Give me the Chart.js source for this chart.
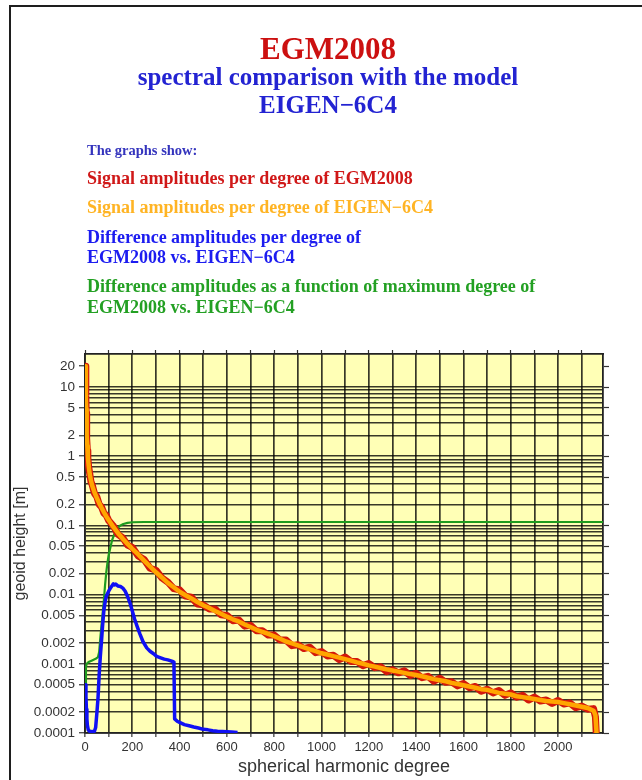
<!DOCTYPE html>
<html>
<head>
<meta charset="utf-8">
<title>EGM2008 spectral comparison with EIGEN-6C4</title>
<script src="https://cdn.jsdelivr.net/npm/chart.js@4/dist/chart.umd.min.js"></script>
<style>
  html, body { margin: 0; padding: 0; background: #fff; overflow: hidden; }
  #page { position: relative; width: 642px; height: 780px; overflow: hidden; background: #fff; }
  .edge { position: absolute; background: #1e1e1e; z-index: 2; }
  #plot { position: absolute; left: 0; top: 0; z-index: 1; }
  #rightCover { position: absolute; left: 634px; top: 8px; width: 8px; height: 772px; background: #fff; z-index: 9; }
  .t { position: absolute; white-space: nowrap; line-height: 1; z-index: 3;
       font-family: 'Liberation Serif', 'Times New Roman', serif; font-weight: bold; }
  .c { left: 28px; width: 600px; text-align: center; }
  .l { left: 87px; font-size: 18px; }
</style>
</head>
<body>
<div id="page">
  <canvas id="plot" width="642" height="780"></canvas>
  <div class="edge" style="left:9px;top:5px;width:633px;height:2px;"></div>
  <div class="edge" style="left:9px;top:5px;width:2px;height:775px;"></div>
  <div id="rightCover"></div>

  <div class="t c" style="top:33px;font-size:31px;color:#cc1010;">EGM2008</div>
  <div class="t c" style="top:64px;font-size:25px;color:#2323d2;">spectral comparison with the model</div>
  <div class="t c" style="top:92px;font-size:25px;color:#2323d2;">EIGEN−6C4</div>

  <div class="t" style="left:87px;top:143px;font-size:14.5px;color:#3434bd;">The graphs show:</div>
  <div class="t l" style="top:169px;color:#d01818;">Signal amplitudes per degree of EGM2008</div>
  <div class="t l" style="top:198px;color:#ffb424;">Signal amplitudes per degree of EIGEN−6C4</div>
  <div class="t l" style="top:228px;color:#1c1cf0;">Difference amplitudes per degree of</div>
  <div class="t l" style="top:248px;color:#1c1cf0;">EGM2008 vs. EIGEN−6C4</div>
  <div class="t l" style="top:277px;color:#23a023;">Difference amplitudes as a function of maximum degree of</div>
  <div class="t l" style="top:298px;color:#23a023;">EGM2008 vs. EIGEN−6C4</div>
</div>

<script>
const sigDeg = [2, 3, 4, 5, 6, 8, 10, 12, 15, 20, 25, 30, 40, 50, 60, 70, 80, 90, 100, 120, 140, 160, 180,
  200, 225, 250, 275, 300, 325, 350, 375, 400, 425,
  450, 475, 500, 525, 550, 575, 600, 625, 650, 675,
  700, 725, 750, 775, 800, 825, 850, 875, 900, 925,
  950, 975, 1000, 1025, 1050, 1075, 1100, 1125, 1150, 1175,
  1200, 1225, 1250, 1275, 1300, 1325, 1350, 1375, 1400, 1425,
  1450, 1475, 1500, 1525, 1550, 1575, 1600, 1625, 1650, 1675,
  1700, 1725, 1750, 1775, 1800, 1825, 1850, 1875, 1900, 1925,
  1950, 1975, 2000, 2025, 2050, 2075, 2100, 2125, 2150,
  2158, 2162, 2166];

// EGM2008 signal amplitudes per degree [m] (noisy)
const egmSignal = [20, 12, 7.5, 4.2, 3.0, 1.8, 1.2, 0.95, 0.72, 0.56, 0.43, 0.39, 0.29, 0.26, 0.20, 0.185, 0.15, 0.14, 0.118, 0.098, 0.074, 0.066, 0.052,
  0.0482, 0.0362, 0.0322, 0.0240, 0.0225, 0.0174, 0.0152, 0.0122, 0.0117, 0.0095,
  0.0092, 0.0073, 0.0071, 0.0062, 0.0062, 0.0051, 0.0050, 0.0042, 0.0043, 0.0035,
  0.0036, 0.0030, 0.0030, 0.0026, 0.0026, 0.0022, 0.00220, 0.00183, 0.00189, 0.00166,
  0.00174, 0.00145, 0.00150, 0.00130, 0.00133, 0.00115, 0.00125, 0.00108, 0.00108, 0.00094,
  0.00101, 0.00088, 0.00091, 0.00077, 0.00082, 0.00074, 0.00079, 0.00068, 0.00073, 0.00063,
  0.00066, 0.00056, 0.00062, 0.00054, 0.00055, 0.00048, 0.00052, 0.00045, 0.00047, 0.00040,
  0.00043, 0.00038, 0.00041, 0.00035, 0.00038, 0.00033, 0.00035, 0.00030, 0.00033, 0.00029,
  0.0003, 0.000268, 0.000295, 0.000262, 0.000272, 0.000232, 0.000245, 0.000221, 0.000225,
  0.00017, 0.00009, 0.00005];

// EIGEN-6C4 signal amplitudes per degree [m]
const eigenSignal = [20, 13, 7, 4.8, 3.2, 2.0, 1.4, 1.0, 0.75, 0.55, 0.45, 0.38, 0.30, 0.25, 0.21, 0.18, 0.155, 0.135, 0.12, 0.095, 0.077, 0.064, 0.054,
  0.046, 0.038, 0.031, 0.0255, 0.021, 0.0177, 0.0148, 0.0128, 0.011, 0.0098,
  0.0088, 0.0078, 0.0070, 0.0064, 0.0058, 0.0053, 0.0048, 0.0044, 0.0041, 0.0037,
  0.0034, 0.0031, 0.0029, 0.0027, 0.0025, 0.0023, 0.0021, 0.00197, 0.00185, 0.00173,
  0.00162, 0.00152, 0.00142, 0.00136, 0.00129, 0.00123, 0.00117, 0.00111, 0.00105, 0.001,
  0.00095, 0.00091, 0.00087, 0.00083, 0.0008, 0.00077, 0.00074, 0.00071, 0.00069, 0.00066,
  0.00063, 0.0006, 0.00058, 0.00056, 0.00053, 0.00051, 0.00049, 0.00047, 0.00045, 0.00043,
  0.00042, 0.0004, 0.00038, 0.00037, 0.00036, 0.00034, 0.00033, 0.00032, 0.00031, 0.0003,
  0.00029, 0.000285, 0.00028, 0.00027, 0.00026, 0.00025, 0.00024, 0.00023, 0.00021,
  0.00018, 0.00011, 0.00005];

// difference amplitudes per degree, EGM2008 vs. EIGEN-6C4 [m]
const diffDeg = [2, 4, 6, 8, 10, 14, 20, 30, 40, 45, 50, 55, 60, 65, 70, 75, 80, 85, 90, 100,
  110, 120, 125, 130, 140, 150, 160, 170, 180, 190, 200, 210, 220, 232, 245, 261, 275, 290,
  303, 320, 335, 350, 360, 370, 376, 379, 390, 400, 420, 440, 460, 480, 500, 520, 540, 560,
  580, 600, 620, 645];
const diffPerDegree = [0.0005, 0.00034, 0.00022, 0.00016, 0.00013, 0.00011, 0.000106, 0.000104, 0.000106, 0.00012,
  0.00019, 0.00032, 0.0007, 0.0013, 0.0022, 0.0038, 0.006, 0.0078, 0.0095, 0.0112,
  0.0128, 0.0143, 0.0138, 0.0142, 0.0133, 0.0131, 0.0124, 0.0112, 0.0094, 0.0076,
  0.0058, 0.0044, 0.0035, 0.0027, 0.0021, 0.0017, 0.00152, 0.0014, 0.00128, 0.00122,
  0.00117, 0.00114, 0.00111, 0.00108, 0.00106, 0.00016, 0.000148, 0.000142, 0.000132, 0.000127,
  0.000122, 0.000118, 0.000113, 0.000111, 0.000108, 0.000106, 0.000105, 0.000104, 0.000103, 0.000102];

// difference amplitudes as a function of maximum degree [m]
const cumDeg = [2, 4, 7, 15, 30, 45, 55, 60, 65, 70, 75, 80, 85, 90, 95, 100, 106, 115, 127, 140, 150, 162, 180, 200, 250, 2190];
const cumDiff = [0.0005, 0.0009, 0.001, 0.00106, 0.00112, 0.00118, 0.00125, 0.0015, 0.0024, 0.0037, 0.0055, 0.0085,
  0.014, 0.021, 0.029, 0.037, 0.046, 0.062, 0.08, 0.093, 0.1, 0.105, 0.109, 0.111, 0.112, 0.112];

// axes
const xMax = 2190;
const xGridValues = [0, 100, 200, 300, 400, 500, 600, 700, 800, 900, 1000, 1100, 1200, 1300, 1400, 1500, 1600, 1700, 1800, 1900, 2000, 2100];
const xLabelValues = [0, 200, 400, 600, 800, 1000, 1200, 1400, 1600, 1800, 2000];
const yMin = 0.0001, yMax = 30;
const yDecades = [0.0001, 0.001, 0.01, 0.1, 1];
const yMultipliers = [1, 2, 3, 4, 5, 6, 7, 8, 9];
const yLabelValues = [0.0001, 0.0002, 0.0005, 0.001, 0.002, 0.005, 0.01, 0.02, 0.05, 0.1, 0.2, 0.5, 1, 2, 5, 10, 20];
const yTickLabels = ['0.0001', '0.0002', '0.0005', '0.001', '0.002', '0.005', '0.01', '0.02', '0.05', '0.1', '0.2', '0.5', '1', '2', '5', '10', '20'];

const yGridValues = yDecades
  .flatMap(d => yMultipliers.map(m => +(d * m).toPrecision(3)))
  .concat([10, 20]);

const PLOT = { left: 85, right: 603, top: 354, bottom: 733, width: 642, height: 780 };
const sans = "'Liberation Sans', Arial, Helvetica, sans-serif";
const gridColor = 'rgba(0,0,0,0.78)';
const axisText = '#333';

function pairs(xs, ys) {
  return xs.map((x, i) => ({ x: x, y: ys[i] }));
}

function labelFor(v) {
  const i = yLabelValues.findIndex(l => Math.abs(l - v) / l < 1e-6);
  return i >= 0 ? yTickLabels[i] : '';
}

// pale yellow behind the grid
const plotBackground = {
  id: 'plotBackground',
  beforeDraw(chart) {
    const { ctx, chartArea: a } = chart;
    ctx.save();
    ctx.fillStyle = '#ffffb6';
    ctx.fillRect(a.left, a.top, a.right - a.left, a.bottom - a.top);
    ctx.restore();
  }
};

const lineDefaults = { pointRadius: 0, tension: 0, fill: false, clip: 0, borderJoinStyle: 'round', borderCapStyle: 'butt' };

new Chart(document.getElementById('plot'), {
  type: 'line',
  data: {
    datasets: [
      { ...lineDefaults, label: 'EIGEN-6C4', data: pairs(sigDeg, eigenSignal), borderColor: '#ffa600', borderWidth: 4.5, order: 1 },
      { ...lineDefaults, label: 'EGM2008', data: pairs(sigDeg, egmSignal), borderColor: '#d3180c', borderWidth: 7, order: 2 },
      { ...lineDefaults, label: 'difference per degree', data: pairs(diffDeg, diffPerDegree), borderColor: '#1010f4', borderWidth: 3.5, order: 3 },
      { ...lineDefaults, label: 'cumulative difference', data: pairs(cumDeg, cumDiff), borderColor: '#1e9b1e', borderWidth: 2.2, order: 4 }
    ]
  },
  options: {
    responsive: false,
    animation: false,
    events: [],
    layout: { padding: 0 },
    plugins: { legend: { display: false }, tooltip: { enabled: false } },
    scales: {
      x: {
        type: 'linear', position: 'bottom', min: 0, max: xMax,
        afterBuildTicks: s => { s.ticks = xGridValues.map(v => ({ value: v })); },
        afterFit: s => { s.height = PLOT.height - PLOT.bottom; },
        grid: { color: gridColor, lineWidth: 1.7, tickLength: 4, tickColor: '#333', tickWidth: 1.2 },
        border: { color: '#222', width: 1.8 },
        ticks: {
          autoSkip: false, maxRotation: 0, padding: 3, color: axisText,
          font: { family: sans, size: 13 },
          callback: v => xLabelValues.includes(v) ? String(v) : ''
        },
        title: {
          display: true, text: 'spherical harmonic degree', color: axisText,
          font: { family: sans, size: 18 }, padding: { top: 0, bottom: 2 }
        }
      },
      xTop: {
        type: 'linear', position: 'top', min: 0, max: xMax,
        afterBuildTicks: s => { s.ticks = xGridValues.map(v => ({ value: v })); },
        afterFit: s => { s.height = PLOT.top; },
        grid: { drawOnChartArea: false, tickLength: 4, tickColor: '#333', tickWidth: 1.2 },
        border: { color: '#222', width: 1.8 },
        ticks: { display: false }
      },
      y: {
        type: 'logarithmic', position: 'left', min: yMin, max: yMax,
        afterBuildTicks: s => { s.ticks = yGridValues.map(v => ({ value: v })); },
        afterFit: s => { s.width = PLOT.left; },
        grid: {
          color: c => (c.tick && c.tick.value > 10.5) ? 'rgba(0,0,0,0)' : gridColor,
          lineWidth: 1.5, tickLength: 6, tickWidth: 1.2,
          tickColor: c => (c.tick && labelFor(c.tick.value)) ? '#333' : 'rgba(0,0,0,0)'
        },
        border: { color: '#222', width: 1.8 },
        ticks: {
          autoSkip: false, padding: 4, color: axisText,
          font: { family: sans, size: 13.5 },
          callback: v => labelFor(v)
        },
        title: {
          display: true, text: 'geoid height [m]', color: axisText,
          font: { family: sans, size: 16 }, padding: { top: 11, bottom: 0 }
        }
      },
      yRight: {
        type: 'logarithmic', position: 'right', min: yMin, max: yMax,
        afterBuildTicks: s => { s.ticks = yLabelValues.map(v => ({ value: v })); },
        afterFit: s => { s.width = PLOT.width - PLOT.right; },
        grid: { drawOnChartArea: false, tickLength: 6, tickColor: '#333', tickWidth: 1.2 },
        border: { color: '#222', width: 1.8 },
        ticks: { display: false }
      }
    }
  },
  plugins: [plotBackground]
});
</script>
</body>
</html>
